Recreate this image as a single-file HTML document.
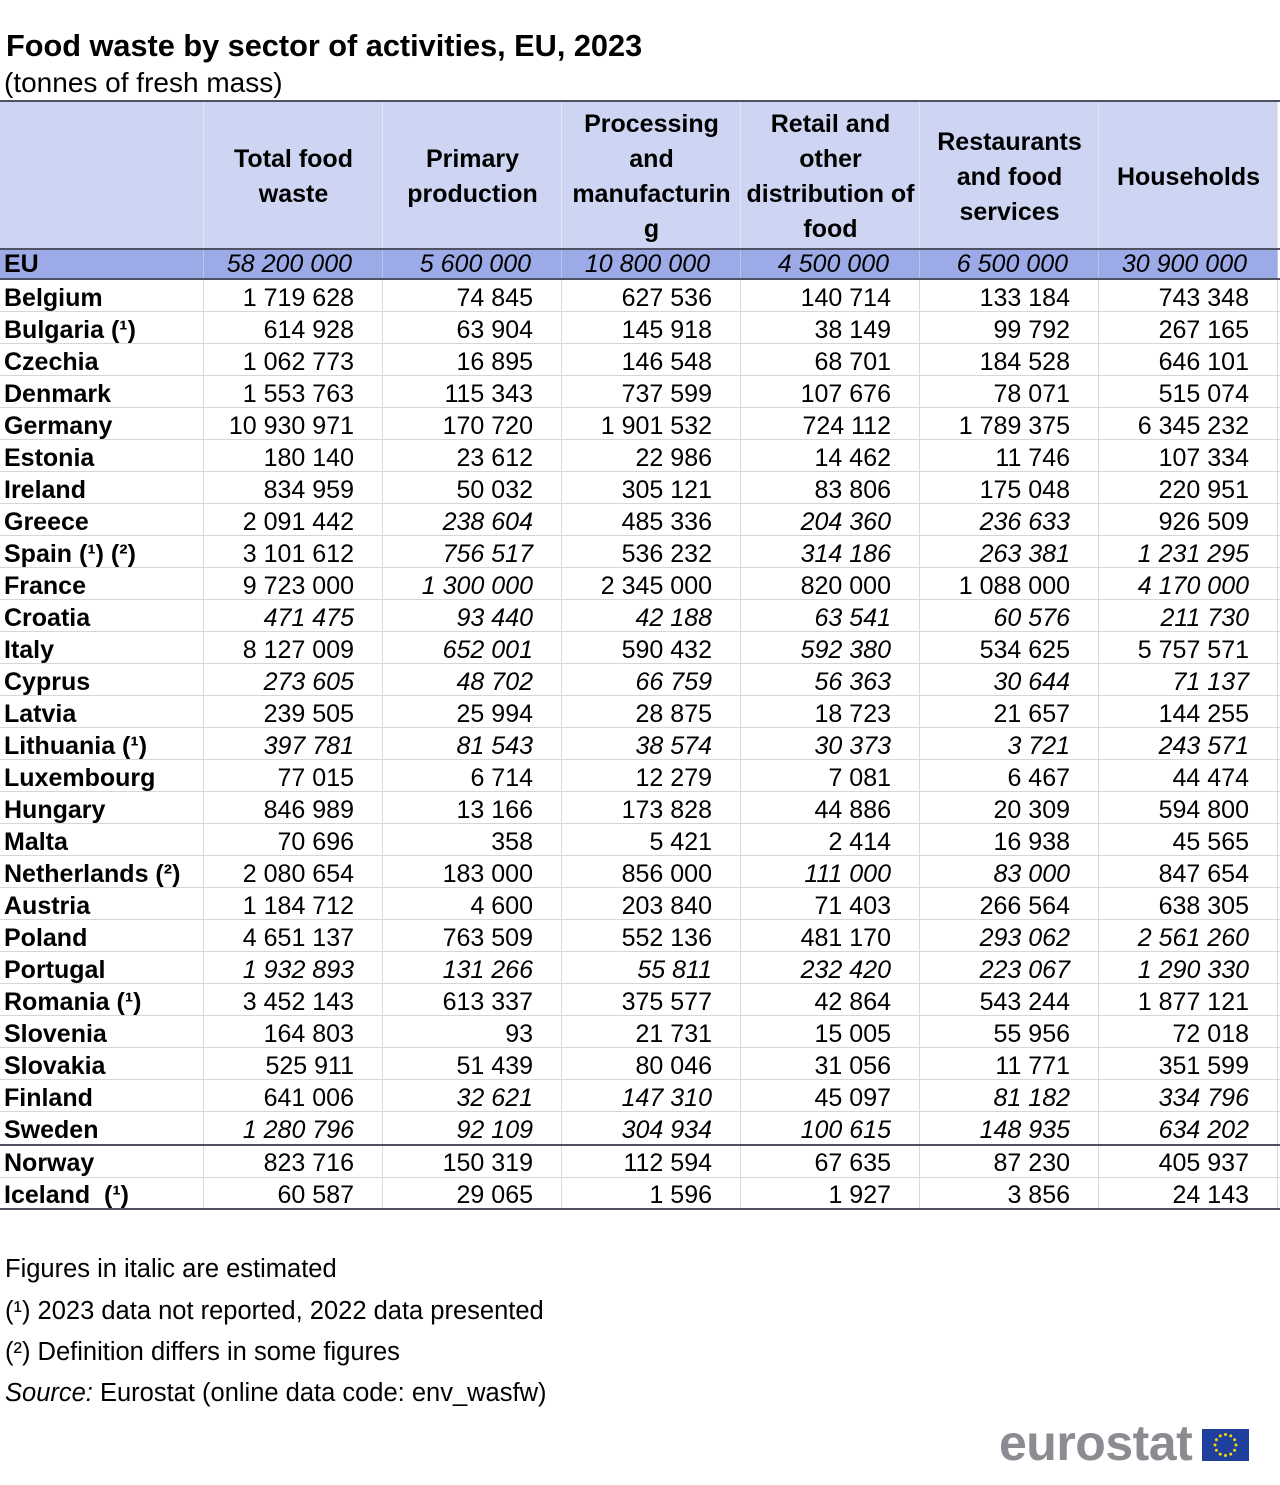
<!DOCTYPE html>
<html>
<head>
<meta charset="utf-8">
<style>
body{margin:0;width:1280px;height:1485px;position:relative;background:#fff;font-family:"Liberation Sans",Arial,sans-serif;color:#000;overflow:hidden}
.t{position:absolute;left:6px;top:28px;font-size:30.7px;line-height:36px;font-weight:bold;white-space:nowrap}
.st{position:absolute;left:4px;top:67px;font-size:28px;line-height:32px;white-space:nowrap}
.hbg{position:absolute;left:0;top:102px;width:1278px;height:146px;background:#cdd5f3}
.eubg{position:absolute;left:0;top:250px;width:1278px;height:28px;background:#9daae8}
.dk{position:absolute;left:0;width:1280px;height:2px;background:#4e5262}
.lt{position:absolute;left:0;width:1280px;height:1px;background:#d6d6d6}
.v{position:absolute;width:1px}
.h{position:absolute;top:104px;height:146px;width:179px;display:flex;align-items:center;justify-content:center;text-align:center;font-size:25px;line-height:35px;font-weight:bold;white-space:nowrap}
.r{position:absolute;left:0;width:1278px;height:32px;display:flex;font-size:25px;line-height:32px}
.r span{display:block;width:179px;box-sizing:border-box;text-align:right;padding-right:28px;padding-top:2px;white-space:nowrap;flex:none}
.r span:first-child{width:203px;text-align:left;padding-left:4px;padding-right:0;font-weight:bold}
.r span.i{font-style:italic}
.eu{height:28px;line-height:28px}
.eu span{padding-top:0;padding-right:30px}
.fn{position:absolute;left:5px;font-size:25.5px;line-height:41px;white-space:nowrap}
.logo{position:absolute;left:999px;top:1418px;font-size:50px;line-height:50px;font-weight:bold;color:#8b8c91;letter-spacing:-0.5px;white-space:nowrap}
</style>
</head>
<body>
<div class="t">Food waste by sector of activities, EU, 2023</div>
<div class="st">(tonnes of fresh mass)</div>

<div class="hbg"></div>
<div class="eubg"></div>

<div class="v" style="left:203px;top:102px;height:146px;background:#e2e7f8"></div>
<div class="v" style="left:382px;top:102px;height:146px;background:#e2e7f8"></div>
<div class="v" style="left:561px;top:102px;height:146px;background:#e2e7f8"></div>
<div class="v" style="left:740px;top:102px;height:146px;background:#e2e7f8"></div>
<div class="v" style="left:919px;top:102px;height:146px;background:#e2e7f8"></div>
<div class="v" style="left:1098px;top:102px;height:146px;background:#e2e7f8"></div>
<div class="v" style="left:1277px;top:102px;height:146px;background:#e2e7f8"></div>
<div class="v" style="left:203px;top:250px;height:28px;background:#bcc5ef"></div>
<div class="v" style="left:382px;top:250px;height:28px;background:#bcc5ef"></div>
<div class="v" style="left:561px;top:250px;height:28px;background:#bcc5ef"></div>
<div class="v" style="left:740px;top:250px;height:28px;background:#bcc5ef"></div>
<div class="v" style="left:919px;top:250px;height:28px;background:#bcc5ef"></div>
<div class="v" style="left:1098px;top:250px;height:28px;background:#bcc5ef"></div>
<div class="v" style="left:1277px;top:250px;height:28px;background:#bcc5ef"></div>
<div class="v" style="left:203px;top:280px;height:928px;background:#dadada"></div>
<div class="v" style="left:382px;top:280px;height:928px;background:#dadada"></div>
<div class="v" style="left:561px;top:280px;height:928px;background:#dadada"></div>
<div class="v" style="left:740px;top:280px;height:928px;background:#dadada"></div>
<div class="v" style="left:919px;top:280px;height:928px;background:#dadada"></div>
<div class="v" style="left:1098px;top:280px;height:928px;background:#dadada"></div>
<div class="v" style="left:1277px;top:280px;height:928px;background:#dadada"></div>

<div class="lt" style="top:311px"></div>
<div class="lt" style="top:343px"></div>
<div class="lt" style="top:375px"></div>
<div class="lt" style="top:407px"></div>
<div class="lt" style="top:439px"></div>
<div class="lt" style="top:471px"></div>
<div class="lt" style="top:503px"></div>
<div class="lt" style="top:535px"></div>
<div class="lt" style="top:567px"></div>
<div class="lt" style="top:599px"></div>
<div class="lt" style="top:631px"></div>
<div class="lt" style="top:663px"></div>
<div class="lt" style="top:695px"></div>
<div class="lt" style="top:727px"></div>
<div class="lt" style="top:759px"></div>
<div class="lt" style="top:791px"></div>
<div class="lt" style="top:823px"></div>
<div class="lt" style="top:855px"></div>
<div class="lt" style="top:887px"></div>
<div class="lt" style="top:919px"></div>
<div class="lt" style="top:951px"></div>
<div class="lt" style="top:983px"></div>
<div class="lt" style="top:1015px"></div>
<div class="lt" style="top:1047px"></div>
<div class="lt" style="top:1079px"></div>
<div class="lt" style="top:1111px"></div>
<div class="lt" style="top:1177px"></div>

<div class="dk" style="top:100px"></div>
<div class="dk" style="top:248px"></div>
<div class="dk" style="top:278px"></div>
<div class="dk" style="top:1144px"></div>
<div class="dk" style="top:1208px"></div>

<div class="h" style="left:204px">Total food<br>waste</div>
<div class="h" style="left:383px">Primary<br>production</div>
<div class="h" style="left:562px">Processing<br>and<br>manufacturin<br>g</div>
<div class="h" style="left:741px">Retail and<br>other<br>distribution of<br>food</div>
<div class="h" style="left:920px">Restaurants<br>and food<br>services</div>
<div class="h" style="left:1099px">Households</div>

<div class="r eu" style="top:250px"><span>EU</span><span class="i">58 200 000</span><span class="i">5 600 000</span><span class="i">10 800 000</span><span class="i">4 500 000</span><span class="i">6 500 000</span><span class="i">30 900 000</span></div>

<div class="r" style="top:280px"><span>Belgium</span><span>1 719 628</span><span>74 845</span><span>627 536</span><span>140 714</span><span>133 184</span><span>743 348</span></div>
<div class="r" style="top:312px"><span>Bulgaria (¹)</span><span>614 928</span><span>63 904</span><span>145 918</span><span>38 149</span><span>99 792</span><span>267 165</span></div>
<div class="r" style="top:344px"><span>Czechia</span><span>1 062 773</span><span>16 895</span><span>146 548</span><span>68 701</span><span>184 528</span><span>646 101</span></div>
<div class="r" style="top:376px"><span>Denmark</span><span>1 553 763</span><span>115 343</span><span>737 599</span><span>107 676</span><span>78 071</span><span>515 074</span></div>
<div class="r" style="top:408px"><span>Germany</span><span>10 930 971</span><span>170 720</span><span>1 901 532</span><span>724 112</span><span>1 789 375</span><span>6 345 232</span></div>
<div class="r" style="top:440px"><span>Estonia</span><span>180 140</span><span>23 612</span><span>22 986</span><span>14 462</span><span>11 746</span><span>107 334</span></div>
<div class="r" style="top:472px"><span>Ireland</span><span>834 959</span><span>50 032</span><span>305 121</span><span>83 806</span><span>175 048</span><span>220 951</span></div>
<div class="r" style="top:504px"><span>Greece</span><span>2 091 442</span><span class="i">238 604</span><span>485 336</span><span class="i">204 360</span><span class="i">236 633</span><span>926 509</span></div>
<div class="r" style="top:536px"><span>Spain (¹) (²)</span><span>3 101 612</span><span class="i">756 517</span><span>536 232</span><span class="i">314 186</span><span class="i">263 381</span><span class="i">1 231 295</span></div>
<div class="r" style="top:568px"><span>France</span><span>9 723 000</span><span class="i">1 300 000</span><span>2 345 000</span><span>820 000</span><span>1 088 000</span><span class="i">4 170 000</span></div>
<div class="r" style="top:600px"><span>Croatia</span><span class="i">471 475</span><span class="i">93 440</span><span class="i">42 188</span><span class="i">63 541</span><span class="i">60 576</span><span class="i">211 730</span></div>
<div class="r" style="top:632px"><span>Italy</span><span>8 127 009</span><span class="i">652 001</span><span>590 432</span><span class="i">592 380</span><span>534 625</span><span>5 757 571</span></div>
<div class="r" style="top:664px"><span>Cyprus</span><span class="i">273 605</span><span class="i">48 702</span><span class="i">66 759</span><span class="i">56 363</span><span class="i">30 644</span><span class="i">71 137</span></div>
<div class="r" style="top:696px"><span>Latvia</span><span>239 505</span><span>25 994</span><span>28 875</span><span>18 723</span><span>21 657</span><span>144 255</span></div>
<div class="r" style="top:728px"><span>Lithuania (¹)</span><span class="i">397 781</span><span class="i">81 543</span><span class="i">38 574</span><span class="i">30 373</span><span class="i">3 721</span><span class="i">243 571</span></div>
<div class="r" style="top:760px"><span>Luxembourg</span><span>77 015</span><span>6 714</span><span>12 279</span><span>7 081</span><span>6 467</span><span>44 474</span></div>
<div class="r" style="top:792px"><span>Hungary</span><span>846 989</span><span>13 166</span><span>173 828</span><span>44 886</span><span>20 309</span><span>594 800</span></div>
<div class="r" style="top:824px"><span>Malta</span><span>70 696</span><span>358</span><span>5 421</span><span>2 414</span><span>16 938</span><span>45 565</span></div>
<div class="r" style="top:856px"><span>Netherlands (²)</span><span>2 080 654</span><span>183 000</span><span>856 000</span><span class="i">111 000</span><span class="i">83 000</span><span>847 654</span></div>
<div class="r" style="top:888px"><span>Austria</span><span>1 184 712</span><span>4 600</span><span>203 840</span><span>71 403</span><span>266 564</span><span>638 305</span></div>
<div class="r" style="top:920px"><span>Poland</span><span>4 651 137</span><span>763 509</span><span>552 136</span><span>481 170</span><span class="i">293 062</span><span class="i">2 561 260</span></div>
<div class="r" style="top:952px"><span>Portugal</span><span class="i">1 932 893</span><span class="i">131 266</span><span class="i">55 811</span><span class="i">232 420</span><span class="i">223 067</span><span class="i">1 290 330</span></div>
<div class="r" style="top:984px"><span>Romania (¹)</span><span>3 452 143</span><span>613 337</span><span>375 577</span><span>42 864</span><span>543 244</span><span>1 877 121</span></div>
<div class="r" style="top:1016px"><span>Slovenia</span><span>164 803</span><span>93</span><span>21 731</span><span>15 005</span><span>55 956</span><span>72 018</span></div>
<div class="r" style="top:1048px"><span>Slovakia</span><span>525 911</span><span>51 439</span><span>80 046</span><span>31 056</span><span>11 771</span><span>351 599</span></div>
<div class="r" style="top:1080px"><span>Finland</span><span>641 006</span><span class="i">32 621</span><span class="i">147 310</span><span>45 097</span><span class="i">81 182</span><span class="i">334 796</span></div>
<div class="r" style="top:1112px"><span>Sweden</span><span class="i">1 280 796</span><span class="i">92 109</span><span class="i">304 934</span><span class="i">100 615</span><span class="i">148 935</span><span class="i">634 202</span></div>
<div class="r" style="top:1145px"><span>Norway</span><span>823 716</span><span>150 319</span><span>112 594</span><span>67 635</span><span>87 230</span><span>405 937</span></div>
<div class="r" style="top:1177px"><span>Iceland&nbsp;&nbsp;(¹)</span><span>60 587</span><span>29 065</span><span>1 596</span><span>1 927</span><span>3 856</span><span>24 143</span></div>

<div class="fn" style="top:1249px">Figures in italic are estimated</div>
<div class="fn" style="top:1291px">(¹) 2023 data not reported, 2022 data presented</div>
<div class="fn" style="top:1332px">(²) Definition differs in some figures</div>
<div class="fn" style="top:1373px"><i>Source:</i> Eurostat (online data code: env_wasfw)</div>

<div class="logo">eurostat</div>
<svg style="position:absolute;left:1202px;top:1429px" width="47" height="32" viewBox="0 0 47 32">
<rect width="47" height="32" fill="#1f3f9c"/>
<g fill="#f5d800">
<circle cx="23.5" cy="5.5" r="1.5"/>
<circle cx="28.75" cy="6.9" r="1.5"/>
<circle cx="32.6" cy="10.75" r="1.5"/>
<circle cx="34" cy="16" r="1.5"/>
<circle cx="32.6" cy="21.25" r="1.5"/>
<circle cx="28.75" cy="25.1" r="1.5"/>
<circle cx="23.5" cy="26.5" r="1.5"/>
<circle cx="18.25" cy="25.1" r="1.5"/>
<circle cx="14.4" cy="21.25" r="1.5"/>
<circle cx="13" cy="16" r="1.5"/>
<circle cx="14.4" cy="10.75" r="1.5"/>
<circle cx="18.25" cy="6.9" r="1.5"/>
</g>
</svg>
</body>
</html>
